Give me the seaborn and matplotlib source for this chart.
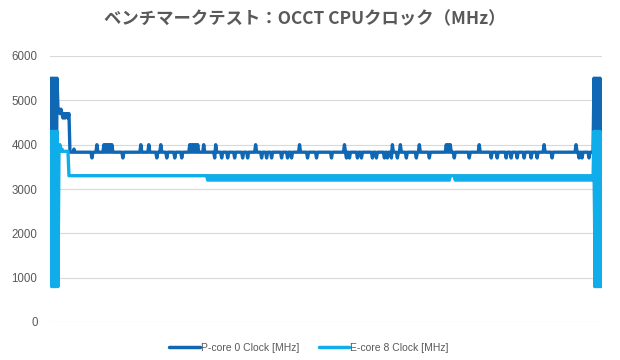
import matplotlib
matplotlib.use("Agg")
import matplotlib.pyplot as plt
import seaborn as sns
import pandas as pd

# ---------------- data ----------------
TITLE = "ベンチマークテスト：OCCT CPUクロック（MHz）"
SERIES = ["P-core 0 Clock [MHz]", "E-core 8 Clock [MHz]"]
Y_TICKS = [0, 1000, 2000, 3000, 4000, 5000, 6000]

# run-length description of each series: (repeating pattern of values, repeats)
P_CORE_RUNS = [
    ([5500, 800], 3), ([5500], 1), ([4800], 2), ([4700], 1), ([4800], 1),
    ([4700], 1), ([4600], 1), ([4700], 1), ([4600], 1), ([4700], 2),
    ([4600], 1), ([4700], 1),
    ([3830], 4), ([3900], 1), ([3830], 17), ([3700], 1), ([3830], 4),
    ([4000], 1), ([3830], 6), ([4000, 3830], 4), ([4000], 1),
    ([3830], 10), ([3700], 1), ([3830], 17), ([4000], 1), ([3830], 7),
    ([4000], 1), ([3830], 7), ([3700], 1), ([3830], 3), ([4000], 1),
    ([3830], 5), ([3700], 1), ([3830], 7), ([3700], 1), ([3830], 6),
    ([3700], 1), ([3830], 7), ([4000, 3830], 4), ([4000], 1),
    ([3830], 5), ([4000], 1), ([3830], 10), ([3700], 1), ([4000], 1),
    ([3830], 5), ([3700], 1), ([3830], 5), ([3700], 1), ([3830], 6),
    ([3700], 1), ([3830], 7), ([3700], 1), ([3830], 4), ([3700], 1),
    ([3830], 7), ([4000], 1), ([3830], 5), ([3700], 1), ([3830], 4),
    ([3700], 1), ([3830], 4), ([3700], 1), ([3830], 9), ([3700], 1),
    ([3830], 5), ([3700], 1), ([3830], 3), ([3700], 1), ([3830], 7),
    ([4000], 1), ([3830], 7), ([3700], 1), ([3830], 8), ([3700], 1),
    ([3830], 14), ([3700], 1), ([3830], 12), ([4000], 1), ([3830], 1),
    ([3700], 1), ([3830], 2), ([3700], 1), ([3830], 7), ([3700], 1),
    ([3830], 3), ([3700], 1), ([3830], 10), ([3700], 1), ([3830], 3),
    ([3700], 1), ([3830], 7), ([3700], 1), ([3830], 2), ([3700], 1),
    ([3830], 3), ([3700], 1), ([4000], 1), ([3830], 4), ([3700], 1),
    ([3830], 2), ([4000], 1), ([3830], 5), ([3700], 1), ([3830], 9),
    ([3700], 1), ([3830], 2), ([4000], 1), ([3830], 9), ([3700], 1),
    ([3830], 16), ([4000, 3830], 2), ([4000], 1),
    ([3830], 3), ([3700], 1), ([3830], 14), ([3700], 1), ([3830], 9),
    ([4000], 1), ([3830], 11), ([3700], 1), ([3830], 5), ([3700], 1),
    ([3830], 8), ([3700], 1), ([3830], 4), ([3700], 1), ([3830], 5),
    ([3700], 1), ([3830], 6), ([3700], 1), ([3830], 6), ([3700], 1),
    ([3830], 5), ([3700], 1), ([3830], 6), ([4000], 1), ([3830], 7),
    ([3700], 1), ([3830], 23), ([4000], 1), ([3830], 2), ([3700], 1),
    ([3830], 2), ([3700], 1), ([3830], 6), ([3700], 1), ([3830], 4),
    ([5500, 800], 4),
]
E_CORE_RUNS = [
    ([4300, 800], 4),
    ([3900], 1), ([4000], 1), ([3850], 1), ([3900], 1), ([3850], 6),
    ([3300], 139),
    ([3200, 3300], 122),
    ([3300], 4),
    ([3200, 3300], 69), ([3200], 1),
    ([4300, 800], 4),
]

COLORS = {SERIES[0]: "#1068B4", SERIES[1]: "#0FAEEA"}


def expand(runs):
    vals = []
    for pattern, reps in runs:
        vals.extend(pattern * reps)
    return vals


rows = []
for name, runs in zip(SERIES, [P_CORE_RUNS, E_CORE_RUNS]):
    for i, v in enumerate(expand(runs)):
        rows.append({"sample": i, "clock": v, "series": name})
df = pd.DataFrame(rows)
n_max = df["sample"].max()

# ---------------- plot ----------------
sns.set_theme(style="white")
plt.rcParams["font.family"] = ["Liberation Sans", "Noto Sans CJK JP", "DejaVu Sans"]

fig = plt.figure(figsize=(6.2, 3.6), dpi=100)
ax = fig.add_axes([50 / 620, 38 / 360, 552 / 620, 266 / 360])

sns.lineplot(data=df, x="sample", y="clock", hue="series", hue_order=SERIES,
             palette=COLORS, estimator=None, sort=False, linewidth=2.4,
             ax=ax, legend=False)

ax.set_xlim(-1, n_max + 1)
ax.set_ylim(0, 6000)
ax.set_yticks(Y_TICKS)
ax.set_yticklabels([str(t) for t in Y_TICKS])
ax.set_xticks([])
ax.set_xlabel("")
ax.set_ylabel("")
for s in ax.spines.values():
    s.set_visible(False)
ax.yaxis.grid(True, color="#d9d9d9", linewidth=0.8)
ax.set_axisbelow(True)
ax.tick_params(axis="y", length=0, pad=9, labelsize=8.3, labelcolor="#595959")

fig.text(305 / 620, 1 - 19 / 360, TITLE, ha="center", va="center",
         fontsize=12.5, fontweight="bold", color="#595959",
         family=["Noto Sans CJK JP", "DejaVu Sans"])

handles = [plt.Line2D([], [], color=COLORS[s], linewidth=2.5) for s in SERIES]
fig.legend(handles, SERIES, loc="center", bbox_to_anchor=(309 / 620, 1 - 348 / 360),
           ncol=2, frameon=False, fontsize=7.5, handlelength=2.9,
           handletextpad=0.1, columnspacing=1.9, labelcolor="#595959")

fig.savefig("out.png", dpi=100)
